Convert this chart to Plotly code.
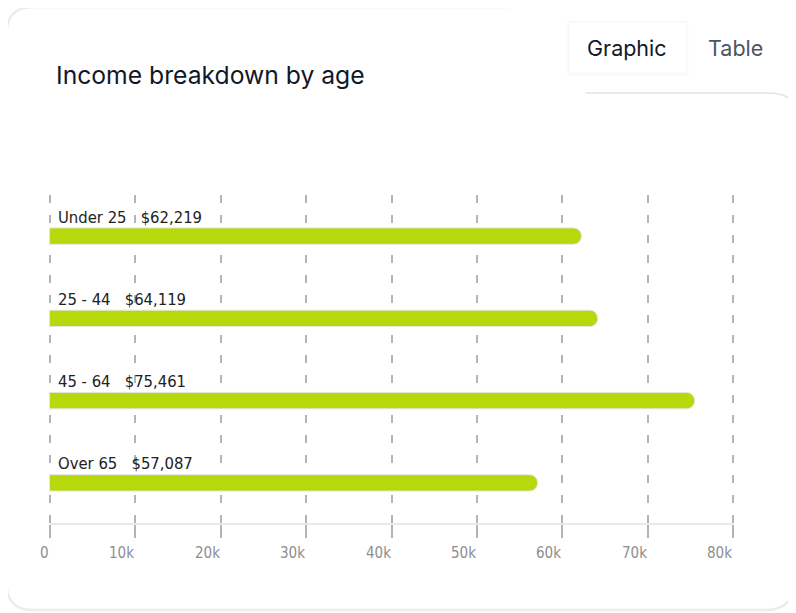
import plotly.graph_objects as go

categories = ["Under 25", "25 - 44", "45 - 64", "Over 65"]
incomes = [62219, 64119, 75461, 57087]
tick_vals = [0, 10000, 20000, 30000, 40000, 50000, 60000, 70000, 80000]
tick_labels = ["0", "10k", "20k", "30k", "40k", "50k", "60k", "70k", "80k"]

# page offset (body margin) and target pixel geometry
OX, OY = 8, 8
W, H = 796 - OX, 613 - OY
X0PX, X80PX = 50, 733          # pixel position of 0 and 80k on the page
PAD = 1000                      # range padding so edge gridlines show
K = (X80PX - X0PX) / 80000
L = X0PX - PAD * K - OX
R = X80PX + PAD * K - OX
T = 195 - OY
B = 524 - OY


def xp(px):
    return (px - OX - L) / (R - L)


def yp(py):
    return (B - (py - OY)) / (B - T)


narrow = "Liberation Sans Narrow, DejaVu Sans Condensed, Arial Narrow, sans-serif"
inter = "Inter, Noto Sans, sans-serif"

fig = go.Figure(
    go.Bar(
        x=incomes,
        y=categories,
        orientation="h",
        width=0.2,
        marker=dict(color="#b6d90c", line=dict(color="#e6e6e6", width=1)),
        hoverinfo="skip",
    )
)

annotations = []
for c, v in zip(categories, incomes):
    annotations.append(dict(
        x=0, y=c, xref="x", yref="y", text=f"{c}   ${v:,}",
        showarrow=False, xanchor="left", yanchor="middle",
        xshift=6, yshift=19,
        font=dict(family=narrow, size=16.5, color="#222222"),
    ))
for tv, tl in zip(tick_vals, tick_labels):
    annotations.append(dict(
        x=tv, y=yp(553), xref="x", yref="paper", text=tl,
        showarrow=False, xanchor="right", yanchor="middle", xshift=1,
        font=dict(family=narrow, size=15, color="#8e8e8e"),
    ))

annotations.append(dict(
    x=xp(54), y=yp(75), xref="paper", yref="paper", text="Income breakdown by age",
    showarrow=False, xanchor="left", yanchor="middle",
    font=dict(family=inter, size=24.7, color="#111827"),
))
annotations.append(dict(
    x=xp(627), y=yp(48), xref="paper", yref="paper", text="Graphic",
    showarrow=False, xanchor="center", yanchor="middle",
    font=dict(family=inter, size=21.5, color="#111827"),
))
annotations.append(dict(
    x=xp(735.5), y=yp(48), xref="paper", yref="paper", text="Table",
    showarrow=False, xanchor="center", yanchor="middle",
    font=dict(family=inter, size=21.5, color="#4b5563"),
))


def path_px(cmds):
    out = []
    for c in cmds:
        if isinstance(c, str):
            out.append(c)
        else:
            out.append(f"{xp(c[0]):.5f},{yp(c[1]):.5f}")
    return " ".join(out)


border = "#ececef"
shapes = []
# outer card
shapes.append(dict(
    type="path", xref="paper", yref="paper",
    path=path_px(["M", (510, 7), "L", (34, 7), "Q", (7, 7), (7, 34),
                  "L", (7, 583), "Q", (7, 610), (34, 610),
                  "L", (765, 610), "Q", (793, 610), (795, 580)]),
    line=dict(color=border, width=2.5), layer="below",
))
# inner panel top-right
shapes.append(dict(
    type="path", xref="paper", yref="paper",
    path=path_px(["M", (585, 93), "L", (768, 93), "Q", (793, 93), (797, 112)]),
    line=dict(color="#e4e4e9", width=1.5), layer="below",
))
# tab shadow + box
for d, col in [(3, "rgba(0,0,0,0.006)"), (2, "rgba(0,0,0,0.009)"), (1, "rgba(0,0,0,0.013)")]:
    shapes.append(dict(
        type="rect", xref="paper", yref="paper",
        x0=xp(569 - d), x1=xp(686 + d), y0=yp(73 + d + 1), y1=yp(22 - d + 1),
        fillcolor=col, line=dict(width=0), layer="below",
    ))
shapes.append(dict(
    type="rect", xref="paper", yref="paper",
    x0=xp(569), x1=xp(686), y0=yp(73), y1=yp(22),
    fillcolor="white", line=dict(color="#f7f7f8", width=1), layer="below",
))
# axis baseline
shapes.append(dict(
    type="line", xref="x", yref="paper",
    x0=0, x1=80000, y0=0, y1=0,
    line=dict(color="#e2e2e2", width=1.5), layer="below",
))

fig.update_layout(
    width=W, height=H,
    margin=dict(l=L, r=W - R, t=T, b=H - B, pad=0),
    paper_bgcolor="white", plot_bgcolor="white",
    showlegend=False,
    barcornerradius=8,
    annotations=annotations,
    shapes=shapes,
    xaxis=dict(
        range=[-PAD, 80000 + PAD], tickvals=tick_vals, showticklabels=False,
        showgrid=True, gridcolor="#b4b4b4", gridwidth=1.5, griddash="8px,12px",
        zeroline=False, showline=False,
        ticks="outside", ticklen=13, tickcolor="#b4b4b4", tickwidth=1.5,
        fixedrange=True,
    ),
    yaxis=dict(
        categoryorder="array", categoryarray=categories[::-1],
        showticklabels=False, showgrid=False, zeroline=False, showline=False,
        fixedrange=True,
    ),
)

fig.write_html("out.html")
